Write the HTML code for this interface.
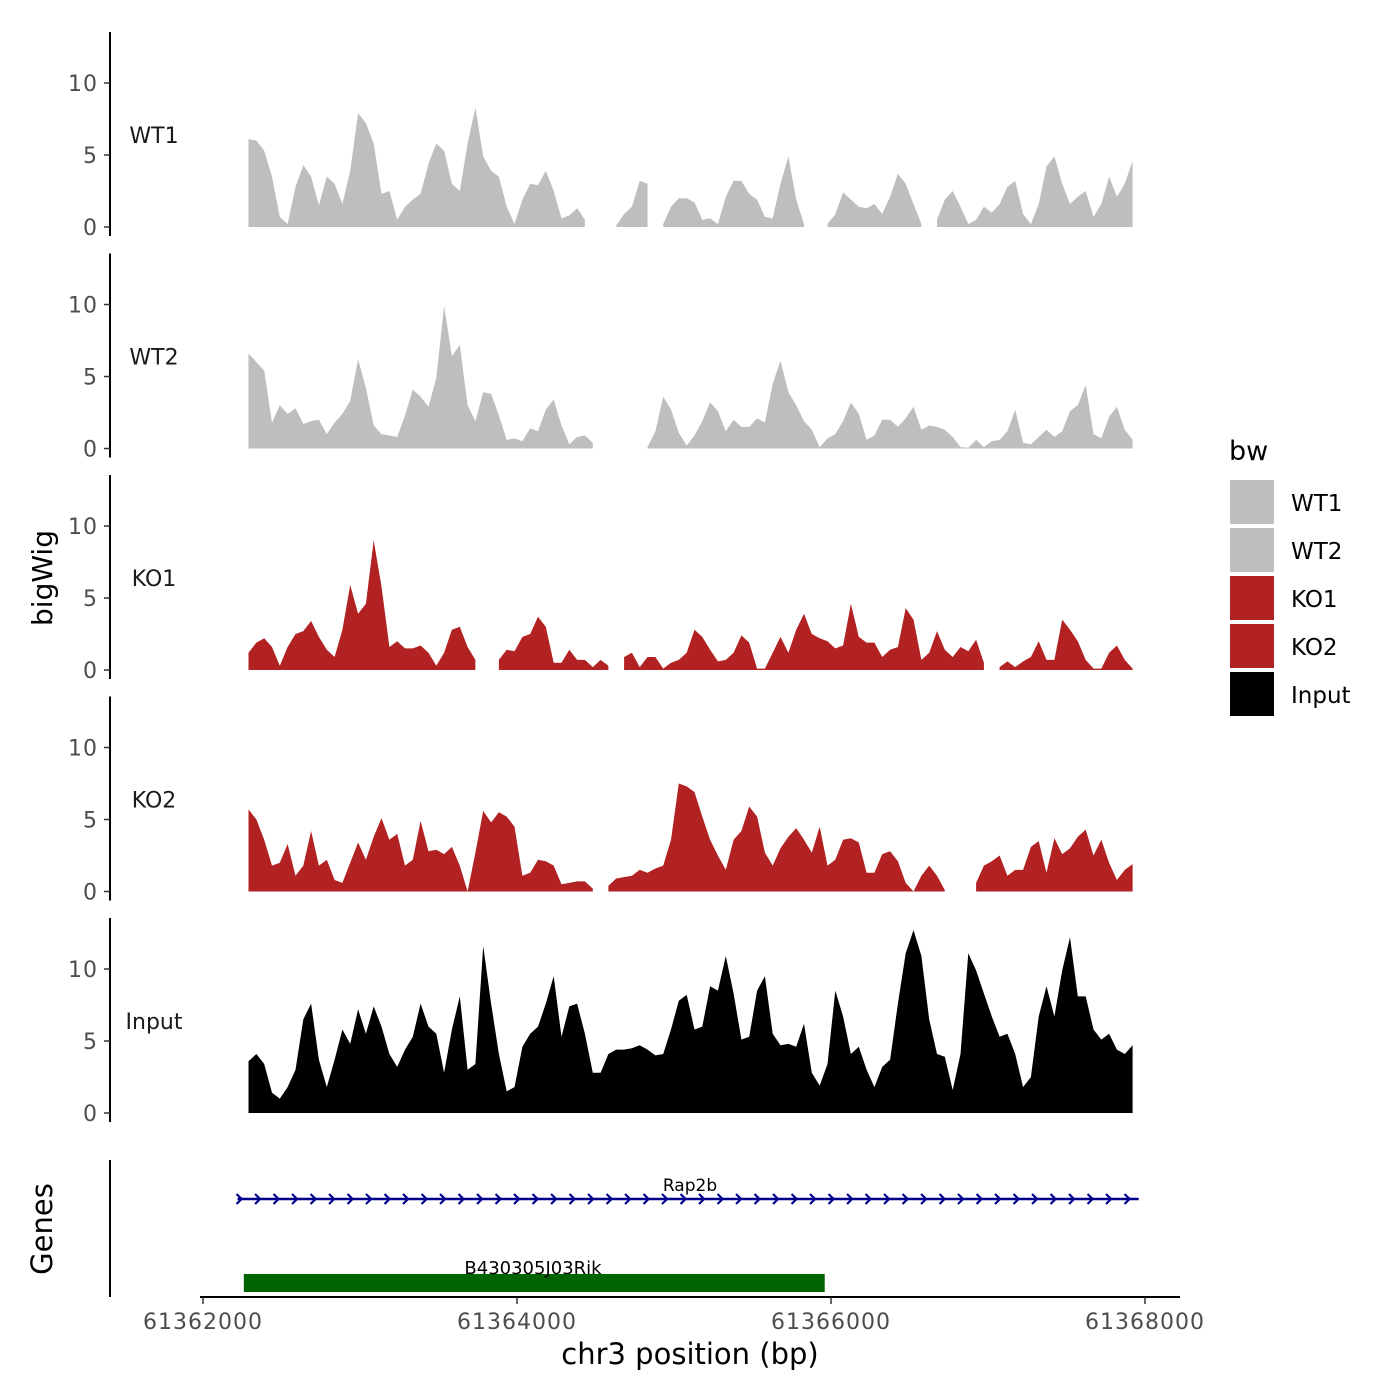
<!DOCTYPE html>
<html><head><meta charset="utf-8"><style>
body{margin:0;background:#fff}
svg{display:block;font-family:"DejaVu Sans","Liberation Sans",sans-serif}
</style></head><body>
<svg id="chart" width="1400" height="1400" viewBox="0 0 1400 1400" xmlns="http://www.w3.org/2000/svg">
<text x="0" y="0" transform="translate(52,578) rotate(-90)" text-anchor="middle" font-size="28">bigWig</text>
<text x="0" y="0" transform="translate(52,1229) rotate(-90)" text-anchor="middle" font-size="29">Genes</text>
<g id="tracks"></g>
<line x1="110" y1="1160" x2="110" y2="1297" stroke="#000" stroke-width="2"/>
<line x1="200" y1="1297" x2="1180" y2="1297" stroke="#000" stroke-width="2"/>
<g id="xaxis"></g>
<text x="690" y="1364" text-anchor="middle" font-size="29">chr3 position (bp)</text>
<g id="genes"></g>
<g>
<text x="1229" y="460" font-size="27">bw</text>
<g id="legend"></g>
</g>
</svg>
<script>
const NS="http://www.w3.org/2000/svg";
const trackNames=["WT1","WT2","KO1","KO2","Input"];
const trackColors=["#bebebe","#bebebe","#b22222","#b22222","#000000"];
const yTicks=[0,5,10];
const xTicks=[61362000,61364000,61366000,61368000];
const dataStart=61362290, dataEnd=61367921;
const wt1=[6.1,6.0,5.3,3.5,0.7,0.2,2.8,4.3,3.5,1.5,3.5,3.0,1.6,3.9,7.9,7.2,5.8,2.3,2.5,0.5,1.4,1.9,2.3,4.4,5.8,5.3,3.0,2.5,5.8,8.3,4.9,3.9,3.5,1.4,0.2,1.9,3.0,2.9,3.9,2.5,0.6,0.8,1.3,0.5,null,null,null,0.1,0.9,1.4,3.2,3.0,null,0.2,1.4,2.0,2.0,1.7,0.5,0.6,0.2,2.1,3.2,3.2,2.3,1.9,0.7,0.6,3.0,4.9,1.9,0.2,null,null,0.2,0.9,2.4,1.9,1.4,1.3,1.6,0.9,2.1,3.7,3.0,1.6,0.2,null,0.5,1.9,2.5,1.4,0.2,0.5,1.4,1.0,1.6,2.8,3.2,0.9,0.2,1.6,4.2,4.9,3.0,1.6,2.1,2.5,0.7,1.6,3.5,2.1,3.0,4.6];
const wt2=[6.6,6.0,5.4,1.8,3.0,2.4,2.8,1.7,1.9,2.0,1.0,1.8,2.4,3.3,6.2,4.2,1.6,1.0,0.9,0.8,2.3,4.1,3.6,2.9,4.9,9.9,6.4,7.2,3.0,1.9,3.9,3.8,2.3,0.6,0.7,0.5,1.4,1.2,2.7,3.4,1.6,0.3,0.8,0.9,0.4,null,null,null,null,null,null,0.1,1.2,3.6,2.7,1.1,0.2,0.9,1.9,3.2,2.6,1.2,2.0,1.5,1.5,2.1,1.8,4.5,6.1,3.9,3.0,1.9,1.3,0.1,0.7,1.0,1.9,3.2,2.4,0.6,0.9,2.0,2.0,1.5,2.1,2.9,1.3,1.6,1.5,1.3,0.8,0.1,0.05,0.6,0.1,0.5,0.6,1.2,2.7,0.4,0.3,0.8,1.3,0.8,1.2,2.6,3.0,4.4,1.0,0.7,2.2,2.9,1.3,0.6];
const ko1=[1.2,1.9,2.2,1.6,0.3,1.6,2.5,2.7,3.4,2.3,1.4,0.9,2.8,5.9,3.9,4.6,9.0,5.8,1.6,2.0,1.5,1.5,1.7,1.2,0.3,1.2,2.8,3.0,1.6,0.7,null,null,0.7,1.4,1.3,2.3,2.5,3.7,3.0,0.5,0.5,1.4,0.7,0.7,0.2,0.7,0.3,null,0.9,1.2,0.2,0.9,0.9,0.1,0.5,0.7,1.2,2.8,2.3,1.4,0.6,0.7,1.2,2.4,1.9,0.1,0.1,1.2,2.3,1.2,2.8,3.9,2.5,2.2,2.0,1.5,1.7,4.6,2.3,1.9,1.9,0.9,1.4,1.6,4.3,3.5,0.7,1.2,2.7,1.4,0.9,1.6,1.3,2.1,0.5,null,0.2,0.6,0.2,0.6,0.9,2.0,0.7,0.7,3.5,2.8,2.0,0.7,0.1,0.1,1.2,1.7,0.7,0.1];
const ko2=[5.7,5.0,3.6,1.8,2.0,3.3,1.1,1.8,4.2,1.8,2.2,0.8,0.6,2.0,3.4,2.2,3.8,5.1,3.6,4.0,1.8,2.2,4.9,2.8,2.9,2.6,3.1,1.8,0,2.7,5.6,4.8,5.5,5.2,4.5,1.1,1.3,2.2,2.1,1.8,0.5,0.6,0.7,0.7,0.2,null,0.4,0.9,1.0,1.1,1.5,1.3,1.6,1.8,3.6,7.5,7.3,6.9,5.2,3.6,2.5,1.5,3.6,4.2,5.9,5.2,2.7,1.8,3.0,3.8,4.4,3.6,2.7,4.5,1.8,2.2,3.6,3.7,3.4,1.3,1.3,2.6,2.8,2.1,0.6,0,1.1,1.8,1.1,0.1,null,null,null,0.6,1.8,2.1,2.5,1.1,1.5,1.5,3.1,3.5,1.3,3.7,2.6,3.0,3.8,4.3,2.5,3.6,2.0,0.8,1.5,1.9];
const input=[3.6,4.1,3.4,1.4,1.0,1.8,3.0,6.5,7.6,3.7,1.8,3.7,5.8,4.8,7.2,5.5,7.4,6.0,4.1,3.2,4.4,5.3,7.6,6.0,5.5,2.8,5.8,8.1,3.0,3.4,11.6,7.6,4.1,1.5,1.8,4.6,5.5,6.0,7.6,9.5,5.3,7.4,7.6,5.5,2.8,2.8,4.1,4.4,4.4,4.5,4.7,4.4,4.0,4.1,5.8,7.8,8.2,5.8,6.0,8.8,8.5,10.9,8.3,5.1,5.3,8.5,9.5,5.5,4.7,4.8,4.6,6.2,2.8,1.9,3.4,8.5,6.7,4.1,4.6,3.0,1.8,3.2,3.7,7.6,11.1,12.7,10.9,6.5,4.1,3.9,1.6,4.1,11.1,9.9,8.3,6.7,5.3,5.5,4.1,1.8,2.5,6.7,8.8,6.7,9.9,12.2,8.1,8.1,5.8,5.1,5.5,4.4,4.1,4.7];
const trackData=[wt1,wt2,ko1,ko2,input];
const geneNames=["Rap2b","B430305J03Rik"];
const geneStarts=[61362220,61362260];
const geneEnds=[61367960,61365960];

function xs(bp){return 203+(bp-61362000)*0.157;}
function mk(tag,attrs,parent){const e=document.createElementNS(NS,tag);for(const k in attrs)e.setAttribute(k,attrs[k]);parent.appendChild(e);return e;}
const tracks=document.getElementById('tracks');
trackData.forEach((vals,ti)=>{
  const zero=227+ti*221.5;
  const ys=v=>zero-v*14.4;
  const g=mk('g',{},tracks);
  
  
  const ax=mk('line',{x1:110,y1:zero-195,x2:110,y2:zero+9,stroke:'#000','stroke-width':2},g);
  
  
  yTicks.forEach(t=>{
    const tk=mk('line',{x1:104,y1:ys(t),x2:110,y2:ys(t),stroke:'#333','stroke-width':1.5},g);
    
    
    const tl=mk('text',{x:98,y:ys(t)+8,'text-anchor':'end','font-size':22,'letter-spacing':1,fill:'#4d4d4d'},g);
    tl.textContent=t;
    
    
  });
  const lab=mk('text',{x:154,y:zero-84,'text-anchor':'middle','font-size':22,fill:'#1a1a1a'},g);
  lab.textContent=trackNames[ti];
  
  
  const n=vals.length, step=(dataEnd-dataStart)/(n-1);
  let seg=[];
  const flush=()=>{
    if(seg.length){
      let d='M'+seg[0][0].toFixed(1)+','+zero;
      seg.forEach(p=>{d+='L'+p[0].toFixed(1)+','+p[1].toFixed(1);});
      d+='L'+seg[seg.length-1][0].toFixed(1)+','+zero+'Z';
      const a=mk('path',{d:d,fill:trackColors[ti]},g);
      
      
    }
    seg=[];
  };
  vals.forEach((v,i)=>{
    if(v===null){flush();return;}
    seg.push([xs(dataStart+i*step),ys(v)]);
  });
  flush();
});
const xa=document.getElementById('xaxis');
xTicks.forEach(t=>{
  const l=mk('line',{x1:xs(t),y1:1297,x2:xs(t),y2:1304,stroke:'#333','stroke-width':1.5},xa);
  
  
  const tx=mk('text',{x:xs(t),y:1329,'text-anchor':'middle','font-size':22,'letter-spacing':1,fill:'#4d4d4d'},xa);
  tx.textContent=t;
  
  
});
const gg=document.getElementById('genes');
{
  const x1=xs(geneStarts[0]),x2=xs(geneEnds[0]);
  const ln=mk('line',{x1:x1,y1:1199,x2:x2,y2:1199,stroke:'#00008b','stroke-width':2.5},gg);
  
  
  let d='';
  for(let x=x1+4;x<=x2+1;x+=18.5){d+='M'+(x-5)+',1194L'+x+',1199L'+(x-5)+',1204';}
  const ch=mk('path',{d:d,stroke:'#00008b','stroke-width':2.2,fill:'none'},gg);
  
  
  const t=mk('text',{x:690,y:1191,'text-anchor':'middle','font-size':17},gg);
  t.textContent=geneNames[0];
  
  
}
{
  const x1=xs(geneStarts[1]),x2=xs(geneEnds[1]);
  const r=mk('rect',{x:x1,y:1274,width:x2-x1,height:18,fill:'#006400'},gg);
  
  
  const t=mk('text',{x:533,y:1274,'text-anchor':'middle','font-size':18},gg);
  t.textContent=geneNames[1];
  
  
}
const lg=document.getElementById('legend');
trackNames.forEach((nm,i)=>{
  const r=mk('rect',{x:1230,y:480+i*48,width:44,height:44,fill:trackColors[i]},lg);
  
  
  const t=mk('text',{x:1291,y:511+i*48,'font-size':23},lg);
  t.textContent=nm;
  
  
});
</script>
</body></html>
